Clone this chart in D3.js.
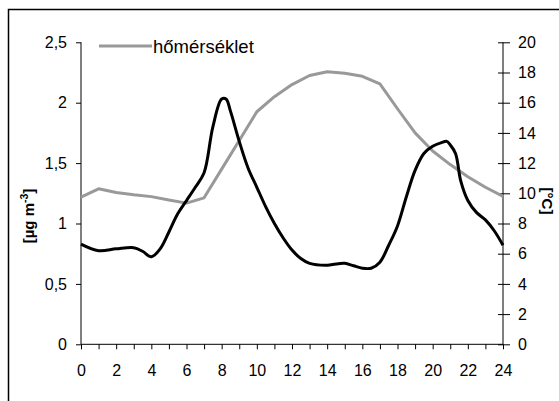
<!DOCTYPE html>
<html>
<head>
<meta charset="utf-8">
<script src="https://cdn.jsdelivr.net/npm/d3@7"></script>
<style>
  html, body { margin: 0; padding: 0; background: #fff; }
  svg { display: block; font-family: "Liberation Sans", Arial, sans-serif; }
</style>
</head>
<body>
<svg id="chart" width="559" height="401"></svg>
<script>
// Hourly air temperature (°C), right axis
const tempHours = [0,1,2,3,4,5,6,7,8,9,10,11,12,13,14,15,16,17,18,19,20,21,22,23,24];
const tempValues = [9.75,10.3,10.05,9.9,9.78,9.55,9.35,9.7,11.6,13.5,15.4,16.4,17.2,17.8,18.05,17.95,17.75,17.25,15.6,14.0,12.8,11.9,11.1,10.4,9.8];

// Concentration (µg m-3), left axis
const concHours = [0,1,2,3,3.5,4,4.5,5,5.5,6,6.5,7,7.5,8,8.25,8.5,9,9.5,10,10.5,11,11.5,12,12.5,13,14,14.5,15,15.5,16,16.5,17,17.5,18,18.5,19,19.5,20,20.5,20.8,21,21.3,21.6,22,22.5,23,23.5,24];
const concValues = [0.83,0.775,0.79,0.80,0.77,0.725,0.79,0.93,1.08,1.19,1.30,1.42,1.80,2.03,2.03,1.93,1.68,1.46,1.30,1.14,1.0,0.88,0.78,0.71,0.67,0.655,0.665,0.67,0.65,0.63,0.63,0.68,0.82,0.98,1.22,1.44,1.58,1.64,1.67,1.68,1.65,1.58,1.35,1.19,1.09,1.03,0.94,0.82];

const xTicks = d3.range(0, 25, 2);
const leftTicks = [0, 0.5, 1, 1.5, 2, 2.5];
const rightTicks = d3.range(0, 21, 2);
const legendLabel = "hőmérséklet";

const svg = d3.select("#chart");
const plotLeft = 81, plotRight = 503, plotTop = 42.3, plotBottom = 344.3;

const x = d3.scaleLinear().domain([0, 24]).range([plotLeft, plotRight]);
const yL = d3.scaleLinear().domain([0, 2.5]).range([plotBottom, plotTop]);
const yR = d3.scaleLinear().domain([0, 20]).range([plotBottom, plotTop]);

const fmt = d => String(d).replace(".", ",");

// outer frame
svg.append("rect")
  .attr("x", 8.5).attr("y", 9.5).attr("width", 600).attr("height", 500)
  .attr("fill", "none").attr("stroke", "#000").attr("stroke-width", 1.5);

const fontSize = 16;

// bottom axis
const gx = svg.append("g").attr("transform", `translate(0,${plotBottom})`)
  .call(d3.axisBottom(x).tickValues(d3.range(0, 25, 1)).tickSize(5).tickPadding(15)
    .tickFormat(d => xTicks.includes(d) ? d : ""));
// left axis
const gl = svg.append("g").attr("transform", `translate(${plotLeft},0)`)
  .call(d3.axisLeft(yL).tickValues(leftTicks).tickSize(5).tickPadding(9).tickFormat(fmt));
// right axis (ticks cross the line)
const gr = svg.append("g").attr("transform", `translate(${plotRight},0)`)
  .call(d3.axisRight(yR).tickValues(rightTicks).tickSize(7).tickPadding(8).tickFormat(d => d));
gr.selectAll(".tick line").attr("x1", -5);

[gx, gl, gr].forEach(g => {
  g.select(".domain").attr("stroke", "#000").attr("stroke-width", 1);
  g.selectAll(".tick line").attr("stroke", "#000");
  g.selectAll(".tick text").attr("fill", "#000").attr("font-size", fontSize)
    .attr("font-family", "'Liberation Sans', Arial, sans-serif");
});
gl.select(".domain").attr("d", `M0,${plotBottom}V${plotTop}`);
gr.select(".domain").attr("d", `M0,${plotBottom}V${plotTop}`);
gx.select(".domain").attr("d", `M${plotLeft},0H${plotRight}`);

// temperature line
svg.append("path")
  .datum(tempHours.map((h, i) => [h, tempValues[i]]))
  .attr("fill", "none").attr("stroke", "#999").attr("stroke-width", 3)
  .attr("stroke-linejoin", "round")
  .attr("d", d3.line().x(d => x(d[0])).y(d => yR(d[1])));

// concentration line
svg.append("path")
  .datum(concHours.map((h, i) => [h, concValues[i]]))
  .attr("fill", "none").attr("stroke", "#000").attr("stroke-width", 3)
  .attr("stroke-linejoin", "round")
  .attr("d", d3.line().curve(d3.curveCatmullRom.alpha(0.5)).x(d => x(d[0])).y(d => yL(d[1])));

// legend
svg.append("line").attr("x1", 99).attr("x2", 152).attr("y1", 46).attr("y2", 46)
  .attr("stroke", "#999").attr("stroke-width", 3);
svg.append("text").attr("x", 153).attr("y", 52.5).attr("font-size", 18.5)
  .attr("fill", "#000").text(legendLabel);

// axis titles
const lt = svg.append("text")
  .attr("transform", "translate(34,216) rotate(-90)")
  .attr("text-anchor", "middle").attr("font-size", 15).attr("font-weight", "bold");
lt.append("tspan").text("[µg m");
lt.append("tspan").attr("font-size", 10.5).attr("dy", -6).text("-3");
lt.append("tspan").attr("dy", 6).text("]");

svg.append("text")
  .attr("transform", "translate(542,201) rotate(90)")
  .attr("text-anchor", "middle").attr("font-size", 15).attr("font-weight", "bold")
  .text("[°C]");
</script>
</body>
</html>
